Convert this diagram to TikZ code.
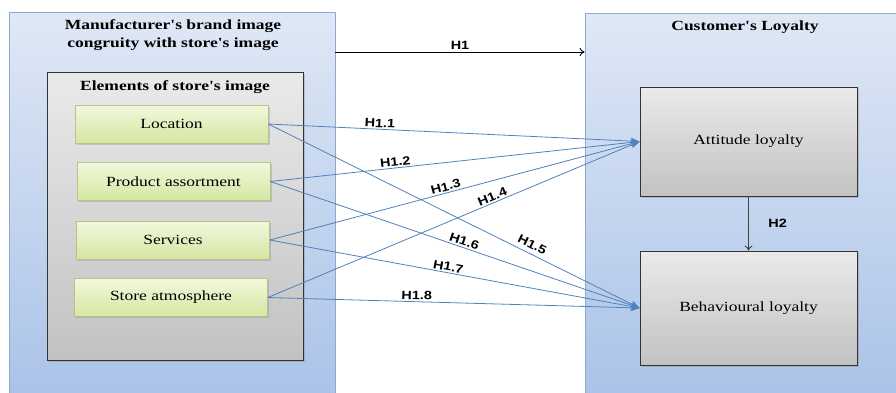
\documentclass[tikz,border=0pt]{standalone}
\usepackage{fontspec}
\setmainfont{Liberation Serif}
\newfontfamily\boxfont[FakeStretch=1.25]{Liberation Serif}
\newfontfamily\hypfont[FakeStretch=1.2]{Liberation Sans}
\usetikzlibrary{arrows.meta,shadows}
\definecolor{paneltop}{HTML}{DFE8F5}
\definecolor{panelbot}{HTML}{A9C2E8}
\definecolor{panelline}{HTML}{8CA9D3}
\definecolor{greytop}{HTML}{EAEAEA}
\definecolor{greybot}{HTML}{C2C2C2}
\definecolor{greentop}{HTML}{F2F8DC}
\definecolor{greenbot}{HTML}{D5E6A2}
\definecolor{greenline}{HTML}{B4C48E}
\definecolor{linkblue}{HTML}{4F81BD}

\begin{document}
\begin{tikzpicture}[x=1pt,y=-1pt]
	\tikzset{panel/.style = {draw=panelline, line width=0.8pt, top color=paneltop, bottom color=panelbot, rectangle}}
	\tikzset{greybox/.style = {draw=black!80, line width=0.8pt, top color=greytop, bottom color=greybot, rectangle, drop shadow={opacity=0.35, shadow xshift=1.5pt, shadow yshift=-1.5pt}}}
	\tikzset{element/.style = {draw=greenline, line width=0.6pt, top color=greentop, bottom color=greenbot, rectangle, minimum width=193pt, minimum height=38pt, font=\boxfont\fontsize{14}{16}\selectfont, drop shadow={opacity=0.3, shadow xshift=1.5pt, shadow yshift=-1.5pt}}}
	\tikzset{loyalty/.style = {greybox, minimum width=217pt, font=\boxfont\fontsize{14}{16}\selectfont}}
	\tikzset{title/.style = {font=\boxfont\bfseries\fontsize{14}{18}\selectfont, align=center}}
	\tikzset{hlabel/.style = {font=\hypfont\bfseries\fontsize{12}{13}\selectfont, inner sep=1.5pt}}
	\tikzset{link/.style = {draw=linkblue, line width=0.8pt, -{Stealth[length=9pt,width=7pt]}}}
	\tikzset{edge/.style = {-{To[length=5pt,width=8pt]}, line width=0.9pt}}
	\useasboundingbox (0,0) rectangle (896,392);
	\clip (0,0) rectangle (896,392);
	% outer panels
	\node[panel, minimum width=326pt, minimum height=392pt] (maker) at (172,208) {};
	\node[panel, minimum width=322pt, minimum height=392pt] (loyal) at (746,209) {};
	\node[title] (makertitle) at (173,35) {Manufacturer's brand image\\congruity with store's image};
	\node[title] (loyaltitle) at (745,27) {Customer's Loyalty};
	% store image elements
	\node[greybox, minimum width=256pt, minimum height=288pt] (elements) at (175,216) {};
	\node[title] (elemtitle) at (175,87) {Elements of store's image};
	\node[element] (location) at (171.5,124) {Location};
	\node[element] (assort) at (173.5,181.5) {Product assortment};
	\node[element] (services) at (173,240) {Services};
	\node[element] (atmos) at (171,297.5) {Store atmosphere};
	% loyalty
	\node[loyalty, minimum height=109pt] (attitude) at (748.5,141.5) {Attitude loyalty};
	\node[loyalty, minimum height=114pt] (behave) at (748.5,308) {Behavioural loyalty};
	% hypotheses
	\draw[edge] (maker.east |- 0,52) -- node[hlabel, above=1pt] {H1} (loyal.west |- 0,52);
	\draw[edge, draw=black!75] (attitude) -- node[hlabel, right=18pt] {H2} (behave);
	\draw[link] (location.east) -- node[hlabel, pos=0.30, sloped, above] {H1.1} (attitude.west);
	\draw[link] (assort.east) -- node[hlabel, pos=0.34, sloped, above] {H1.2} (attitude.west);
	\draw[link] (services.east) -- node[hlabel, pos=0.48, sloped, above] {H1.3} (attitude.west);
	\draw[link] (atmos.east) -- node[hlabel, pos=0.61, sloped, above] {H1.4} (attitude.west);
	\draw[link] (location.east) -- node[hlabel, pos=0.70, sloped, above=3pt] {H1.5} (behave.west);
	\draw[link] (assort.east) -- node[hlabel, pos=0.52, sloped, above] {H1.6} (behave.west);
	\draw[link] (services.east) -- node[hlabel, pos=0.48, sloped, above] {H1.7} (behave.west);
	\draw[link] (atmos.east) -- node[hlabel, pos=0.40, sloped, above] {H1.8} (behave.west);
\end{tikzpicture}
\end{document}
